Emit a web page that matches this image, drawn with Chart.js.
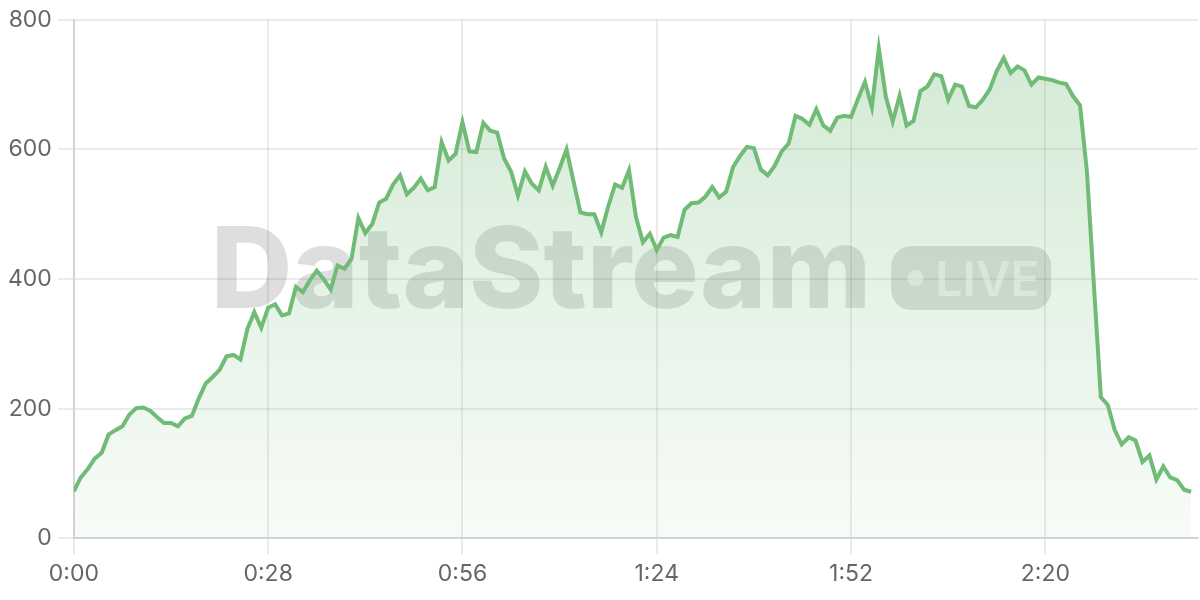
<!DOCTYPE html>
<html>
<head>
<meta charset="utf-8">
<title>DataStream LIVE</title>
<script src="https://cdn.jsdelivr.net/npm/chart.js@4.4.1/dist/chart.umd.min.js"></script>
<style>
  html, body { margin: 0; padding: 0; background: #fff; }
  #wrap { width: 1200px; height: 600px; position: relative; }
</style>
</head>
<body>
<div id="wrap"><canvas id="streamChart"></canvas></div>
<script>
// viewers per second
var values = [
    73, 94, 107, 123, 132, 160, 167, 173, 191, 201,
    202, 197, 187, 178, 178, 173, 185, 189, 216, 239,
    249, 260, 281, 283, 276, 323, 349, 325, 356, 361,
    344, 347, 388, 380, 398, 413, 400, 384, 421, 416,
    431, 494, 471, 485, 518, 524, 546, 560, 531, 541,
    555, 537, 542, 611, 583, 593, 642, 597, 596, 641,
    629, 626, 586, 566, 529, 566, 547, 537, 573, 544,
    571, 600, 551, 503, 500, 500, 472, 512, 546, 541,
    568, 496, 457, 470, 445, 464, 468, 465, 507, 517,
    518, 527, 542, 526, 535, 573, 590, 604, 602, 569,
    560, 575, 597, 609, 652, 647, 638, 662, 637, 629,
    649, 652, 650, 678, 704, 665, 756, 682, 643, 683,
    637, 644, 690, 697, 716, 713, 677, 700, 697, 667,
    665, 677, 693, 721, 741, 718, 728, 722, 700, 711,
    709, 707, 703, 701, 682, 668, 565, 390, 218, 206,
    167, 145, 156, 151, 118, 128, 91, 111, 94, 90,
    75, 72
];
// elapsed seconds for each sample
var seconds = values.map(function (v, i) { return i; });
var tickStep = 28;
var axisEnd = 162;
var yTicks = [0, 200, 400, 600, 800];

var green = 'rgb(112, 187, 118)';

function fmtTime(s) {
    var m = Math.floor(s / 60);
    var r = s % 60;
    return m + ':' + (r < 10 ? '0' : '') + r;
}

var watermark = {
    id: 'watermark',
    beforeDatasetsDraw: function (chart) {
        var ctx = chart.ctx;
        var a = chart.chartArea;
        var cx = (a.left + a.right) / 2 - 5;
        var cy = (a.top + a.bottom) / 2;
        ctx.save();
        ctx.font = '800 113px Inter';
        var tw = ctx.measureText('DataStream').width;
        var pillW = 160, pillH = 64, gap = 20;
        var x0 = cx - (tw + gap + pillW) / 2;
        ctx.fillStyle = 'rgba(0,0,0,0.13)';
        ctx.textBaseline = 'alphabetic';
        ctx.fillText('DataStream', x0, cy + 29);

        var px = x0 + tw + gap;
        ctx.beginPath();
        ctx.roundRect(px, cy - pillH / 2 - 1, pillW, pillH, 20);
        ctx.fill();

        ctx.fillStyle = 'rgba(255,255,255,0.55)';
        ctx.beginPath();
        ctx.arc(px + 24, cy - 1, 8, 0, Math.PI * 2);
        ctx.fill();
        ctx.font = '600 48px Inter';
        ctx.fillText('LIVE', px + 44, cy + 17);
        ctx.restore();
    }
};

var ctx = document.getElementById('streamChart').getContext('2d');

new Chart(ctx, {
    type: 'line',
    data: {
        labels: seconds,
        datasets: [{
            data: values,
            borderColor: green,
            borderWidth: 4,
            pointRadius: 0,
            tension: 0,
            fill: 'origin',
            backgroundColor: function (c) {
                var area = c.chart.chartArea;
                if (!area) return 'rgba(112,187,118,0.2)';
                var g = c.chart.ctx.createLinearGradient(0, area.top, 0, area.bottom);
                g.addColorStop(0, 'rgba(112,187,118,0.32)');
                g.addColorStop(1, 'rgba(112,187,118,0.05)');
                return g;
            }
        }]
    },
    options: {
        responsive: true,
        maintainAspectRatio: false,
        devicePixelRatio: 1,
        animation: false,
        layout: { padding: { top: 6, left: 2, right: 2, bottom: 6 } },
        plugins: {
            legend: { display: false },
            tooltip: { enabled: false }
        },
        scales: {
            x: {
                type: 'linear',
                min: 0,
                max: axisEnd,
                grid: { color: 'rgba(0,0,0,0.08)', lineWidth: 2, tickLength: 16 },
                border: { color: 'rgba(0,0,0,0.1)', width: 2 },
                ticks: {
                    stepSize: tickStep,
                    includeBounds: false,
                    padding: 6,
                    color: '#666',
                    font: { family: 'Inter', size: 23 },
                    maxRotation: 0,
                    callback: function (v) { return fmtTime(v); }
                },
                afterBuildTicks: function (axis) {
                    axis.ticks = axis.ticks.filter(function (t) { return t.value % tickStep === 0; });
                }
            },
            y: {
                min: yTicks[0],
                max: yTicks[yTicks.length - 1],
                grid: { color: 'rgba(0,0,0,0.08)', lineWidth: 2, tickLength: 16 },
                border: { color: 'rgba(0,0,0,0.1)', width: 2 },
                ticks: {
                    stepSize: 200,
                    padding: 6,
                    color: '#666',
                    font: { family: 'Inter', size: 23 }
                }
            }
        }
    },
    plugins: [watermark]
});
</script>
</body>
</html>
